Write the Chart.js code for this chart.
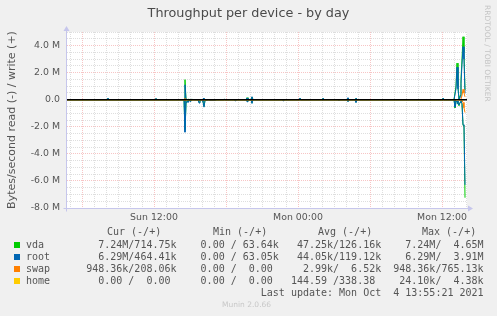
<!DOCTYPE html>
<html><head><meta charset="utf-8">
<script src="https://cdn.jsdelivr.net/npm/chart.js@4.4.0/dist/chart.umd.min.js"></script>
<style>
html,body{margin:0;padding:0;background:#f0f0f0;}
#wrap{position:relative;width:497px;height:316px;overflow:hidden;background:#f0f0f0;font-family:"DejaVu Sans",sans-serif;}
canvas{position:absolute;left:0;top:0;}
.t{position:absolute;white-space:pre;}
.mono{font-family:"DejaVu Sans Mono",monospace;font-size:10px;line-height:12px;color:#555;}
.box{position:absolute;width:6px;height:6px;}
</style></head>
<body><div id="wrap">
<canvas id="c" width="497" height="316"></canvas>
<div class="t" style="left:0;width:497px;top:5px;text-align:center;font-size:12.8px;line-height:16px;color:#4a4a4a;">Throughput per device - by day</div>
<div class="t" style="left:482px;top:5px;writing-mode:vertical-rl;font-size:7.5px;line-height:10px;color:#c4c4c4;">RRDTOOL / TOBI OETIKER</div>
<div id="legend"></div>
<div class="t" style="left:222px;top:300px;font-size:7.5px;line-height:10px;color:#c8c8c8;">Munin 2.0.66</div>
</div>
<script>
// ---- axis settings (hours relative to Sun 12:00) ----
const xMin = -7.25, xMax = 26.083;
const xTickLabels = {0: 'Sun 12:00', 12: 'Mon 00:00', 24: 'Mon 12:00'};
const yMin = -8, yMax = 5; // millions of bytes/s

// ---- sample times (hours relative to Sun 12:00) ----
const hours = [-7.25,-3.917,-3.833,-3.75,0.083,0.167,0.25,2.5,2.583,2.667,2.75,2.833,2.917,3.0,3.083,3.667,3.75,3.833,4.0,4.083,4.167,4.25,4.583,4.667,5.083,5.167,5.75,5.833,5.917,6.667,6.75,6.833,7.667,7.75,7.833,8.083,8.167,8.25,10.667,10.75,10.833,12.083,12.167,12.25,14.0,14.083,14.167,15.333,15.417,15.5,16.083,16.167,16.25,16.75,16.833,16.917,24.0,24.083,24.167,25.0,25.083,25.167,25.25,25.333,25.417,25.5,25.583,25.667,25.75,25.833,25.917];

// ---- values in M bytes/s: write (+) and read (-) ----
const vdaWrite  = [0,0,0.1,0,0,0.08,0,0,1.48,0.02,0,0.02,0.03,0,0.02,0,0,0,0,0.05,0.1,0,0,0,0,0,0,0.04,0,0,0,0,0,0.15,0,0,0.2,0,0,0,0,0,0.1,0,0,0.1,0,0,0,0,0,0.12,0,0,0.1,0,0,0.1,0,0,0,1.0,2.7,1.0,0.05,0.3,1.5,3.0,4.65,3.5,0.715];
const vdaRead   = [0,0,0,0,0,0,0,0,-2.2,-0.3,-0.08,-0.15,-0.02,-0.1,0,0,-0.2,0,0,-0.1,-0.5,-0.05,0,-0.05,-0.05,0,0,0,0,0,-0.06,0,0,-0.12,0,0,-0.25,0,0,-0.06,0,0,0,0,0,0,0,0,-0.05,0,0,-0.12,0,0,-0.18,0,0,0,0,0,-0.6,-0.2,-0.1,-0.3,-0.45,-0.2,-0.1,-0.3,-1.9,-1.95,-7.24];
const rootWrite = [0,0,0.12,0,0,0.1,0,0,1.1,0,0,0,0.02,0,0.02,0,0.02,0,0,0.05,0.12,0,0,0,0,0,0,0.05,0,0,0,0,0,0.13,0,0,0.22,0,0,0,0,0,0.12,0,0,0.12,0,0,0,0,0,0.15,0,0,0.12,0,0,0.12,0,0,0,0.8,2.4,0.8,0.05,0.2,1.2,2.6,3.91,3.0,0.464];
const rootRead  = [0,0,0,0,0,-0.03,0,0,-2.4,-0.25,-0.12,-0.2,-0.05,-0.12,0,0,-0.25,0,0,-0.15,-0.55,-0.05,0,-0.06,-0.06,0,0,0,0,0,-0.08,0,0,-0.15,0,0,-0.28,0,0,-0.08,0,0,0,0,0,-0.03,0,0,-0.06,0,0,-0.15,0,0,-0.2,0,0,0,0,0,-0.55,-0.2,-0.1,-0.3,-0.4,-0.2,-0.1,-0.3,-1.85,-1.9,-6.29];
const swapWrite = [0,0,0,0,0,0,0,0,0.1,0,0,0,0,0,0,0,0,0,0,0,0,0,0,0,0,0,0,0,0,0,0,0,0,0,0,0,0,0,0,0,0,0,0,0,0,0,0,0,0,0,0,0,0,0,0,0,0,0,0,0,0,0,0,0,0,0,0.05,0.3,0.765,0.5,0.208];
const swapRead  = [0,0,0,0,0,0,0,0,-0.05,0,0,0,0,0,0,0,0,0,0,0,0,0,0,0,0,0,0,0,0,0,0,0,0,0,0,0,0,0,0,0,0,0,0,0,0,0,0,0,0,0,0,0,0,0,0,0,0,0,0,0,0,0,0,0,0,0,0,-0.05,-0.2,-0.6,-0.948];
const homeWrite = [0,0,0,0,0,0,0,0,0.004,0,0,0,0,0,0,0,0,0,0,0,0,0,0,0,0,0,0,0,0,0,0,0,0,0,0,0,0,0,0,0,0,0,0,0,0,0,0,0,0,0,0,0,0,0,0,0,0,0,0,0,0,0,0,0,0,0,0,0,0,0,0];
const homeRead  = [0,0,0,0,0,0,0,0,-0.024,0,0,0,0,0,0,0,0,0,0,0,0,0,0,0,0,0,0,0,0,0,0,0,0,0,0,0,0,0,0,0,0,0,0,0,0,0,0,0,0,0,0,0,0,0,0,0,0,0,0,0,0,0,0,0,0,0,0,0,0,0,0];

// ---- legend ----
const devices   = ['vda','root','swap','home'];
const colors    = ['#00cc00','#0066b3','#ff8000','#ffcc00'];
const legendCur = ['  7.24M/714.75k','  6.29M/464.41k','948.36k/208.06k','  0.00 /  0.00 '];
const legendMin = ['  0.00 / 63.64k','  0.00 / 63.05k','  0.00 /  0.00 ','  0.00 /  0.00 '];
const legendAvg = [' 47.25k/126.16k',' 44.05k/119.12k','  2.99k/  6.52k','144.59 /338.38 '];
const legendMax = ['  7.24M/  4.65M','  6.29M/  3.91M','948.36k/765.13k',' 24.10k/  4.38k'];
const headers   = [['Cur (-/+)',107],['Min (-/+)',213],['Avg (-/+)',318],['Max (-/+)',422]];
const lastUpdate = 'Last update: Mon Oct  4 13:55:21 2021';

const leg = document.getElementById('legend');
headers.forEach(([h,x])=>{
  const d=document.createElement('div'); d.className='t mono'; d.style.left=x+'px'; d.style.top='226px'; d.textContent=h; leg.appendChild(d);
});
devices.forEach((dev,i)=>{
  const y = 239 + i*12;
  const b=document.createElement('div'); b.className='box'; b.style.left='14px'; b.style.top=(y+3)+'px'; b.style.background=colors[i]; leg.appendChild(b);
  const d=document.createElement('div'); d.className='t mono'; d.style.left='26px'; d.style.top=y+'px';
  d.textContent = dev.padEnd(10) + legendCur[i] + '  ' + legendMin[i] + '  ' + legendAvg[i] + '  ' + legendMax[i];
  leg.appendChild(d);
});
{
  const d=document.createElement('div'); d.className='t mono'; d.style.left='26px'; d.style.top='287px';
  d.textContent = ' '.repeat(39) + lastUpdate; leg.appendChild(d);
}

// ---- chart ----
const mk = (arr) => hours.map((h,i)=>({x:h, y:arr[i]}));
const series = [
  [vdaWrite, vdaRead], [rootWrite, rootRead], [swapWrite, swapRead], [homeWrite, homeRead]
];
const datasets = [];
series.forEach((pair,i)=>{
  pair.forEach((arr,k)=>{
    datasets.push({label: devices[i]+(k?' read':' write'), data: mk(arr), borderColor: colors[i],
      borderWidth: 1, pointRadius: 0, tension: 0, fill: false, order: 10 - i});
  });
});
datasets.push({label:'zero', data:[{x:xMin,y:0},{x:xMax,y:0}], borderColor:'#000', borderWidth:1.4, pointRadius:0, order:0});

const RED = 'rgba(240,150,150,0.55)', GREY = 'rgba(200,200,200,0.6)', AXIS = '#c6c6ec';

const bgPlugin = {
  id:'bg',
  beforeDraw(chart){
    const {ctx, chartArea:a} = chart;
    ctx.save(); ctx.fillStyle='#ffffff'; ctx.fillRect(a.left, a.top, a.right-a.left, a.bottom-a.top); ctx.restore();
  },
  afterDraw(chart){
    const {ctx, chartArea:a} = chart;
    ctx.save(); ctx.strokeStyle=AXIS; ctx.fillStyle=AXIS; ctx.lineWidth=1;
    const L = Math.round(a.left)-0.5, B = Math.round(a.bottom)+0.5;
    ctx.beginPath(); ctx.moveTo(L, B+3); ctx.lineTo(L, a.top-2); ctx.stroke();
    ctx.beginPath(); ctx.moveTo(L-3, B); ctx.lineTo(a.right+2, B); ctx.stroke();
    ctx.beginPath(); ctx.moveTo(L-3, a.top-1); ctx.lineTo(L+3, a.top-1); ctx.lineTo(L, a.top-6); ctx.closePath(); ctx.fill();
    ctx.beginPath(); ctx.moveTo(a.right+1, B-3); ctx.lineTo(a.right+1, B+3); ctx.lineTo(a.right+6, B); ctx.closePath(); ctx.fill();
    ctx.restore();
  }
};

const isMul = (v,m) => Math.abs(v % m) < 1e-9;

new Chart(document.getElementById('c'), {
  type: 'line',
  data: { datasets },
  options: {
    responsive: false, animation: false, devicePixelRatio: 1,
    layout: { padding: { left: 0, right: 30, top: 32, bottom: 88 } },
    plugins: { legend: { display: false }, tooltip: { enabled: false }, title: { display: false } },
    scales: {
      x: {
        type: 'linear', min: xMin, max: xMax,
        afterBuildTicks: (s) => { const t=[]; for (let h=Math.ceil(xMin); h<=Math.floor(xMax); h++) t.push({value:h}); s.ticks=t; },
        afterFit: (s) => { s.height = 20; },
        grid: { color: (c) => (c.tick && isMul(c.tick.value,6)) ? RED : GREY, lineWidth: 1, drawTicks: false },
        border: { display: false, dash: [1,1] },
        ticks: { autoSkip: false, maxRotation: 0, padding: 4, color: '#555',
          font: { family: 'DejaVu Sans', size: 9.4 },
          callback: (v) => xTickLabels[v] !== undefined ? xTickLabels[v] : '' }
      },
      y: {
        type: 'linear', min: yMin, max: yMax,
        afterBuildTicks: (s) => { const t=[]; for (let v=yMin; v<=yMax+1e-9; v+=0.5) t.push({value:v}); s.ticks=t; },
        afterFit: (s) => { s.width = 67; },
        grid: { color: (c) => (c.tick && isMul(c.tick.value,2)) ? RED : GREY, lineWidth: 1, drawTicks: false },
        border: { display: false, dash: [1,1] },
        title: { display: true, text: 'Bytes/second read (-) / write (+)', color: '#555',
          font: { family: 'DejaVu Sans', size: 11 }, padding: { top: 6, bottom: 0 } },
        ticks: { autoSkip: false, padding: 7, color: '#555',
          font: { family: 'DejaVu Sans', size: 9.4 },
          callback: (v) => isMul(v,2) ? (v === 0 ? '0.0' : v.toFixed(1) + ' M') : '' }
      }
    }
  },
  plugins: [bgPlugin]
});
</script>
</body></html>
